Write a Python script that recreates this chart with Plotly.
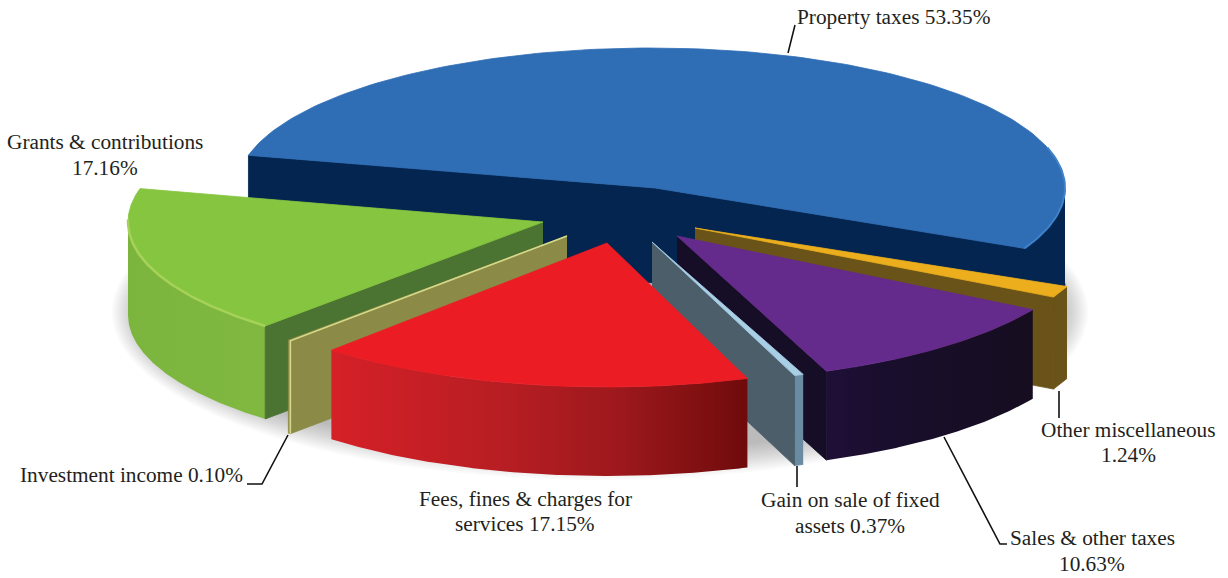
import numpy as np
import plotly.graph_objects as go

categories = ["Property taxes", "Other miscellaneous", "Sales & other taxes",
              "Gain on sale of fixed assets", "Fees, fines & charges for services",
              "Investment income", "Grants & contributions"]
shares = [53.35, 1.24, 10.63, 0.37, 17.15, 0.10, 17.16]

START = 166.5
apex_x = [655, 695, 677, 652, 607, 567, 543]
apex_y = [188, 228, 236, 242, 243, 236, 222]
centre_shift = [-4, 0, 0, 0, 0, 0, 0]
rad_x = [414, 404, 413, 400, 413, 417, 415]
rad_y = [140, 150, 145, 143, 144, 140, 140]
tilt = [0, 2.6, -0.5, 0.5, -0.5, -0.2, -0.3]
depth = [95, 92, 89, 90, 89, 93, 93]
top_col = ["#2f6db5", "#ecae1d", "#652b8c", "#a9cfe6", "#ec1c24", "#8b8b47", "#86c540"]
cut_col = ["#03254f", "#6a5318", "#160d26", "#4b5e69", "#8c1418", "#8b8b47", "#4b7433"]
wall_scale = [
    [[0, "#03254f"], [1, "#03254f"]],
    [[0, "#6a5318"], [1, "#6a5318"]],
    [[0, "#1f0f38"], [0.3, "#190e2c"], [1, "#160d20"]],
    [[0, "#6a8ca3"], [1, "#6a8ca3"]],
    [[0, "#d52027"], [0.4, "#b81e23"], [0.7, "#9c181c"], [1, "#6f0b0b"]],
    [[0, "#8b8b47"], [1, "#8b8b47"]],
    [[0, "#7cb53e"], [1, "#80b840"]],
]
rim_col = ["#3f82cc", "#f2b824", "#7a3aa3", "#bfe0f2", "#ec1c24", "#d8d88a", "#a6d25a"]
draw_order = [0, 1, 2, 3, 6, 5, 4]

spans = [s / sum(shares) * 360 for s in shares]
ends = START - np.cumsum(spans)
starts = ends + np.array(spans)

fig = go.Figure()

def poly(xs, ys, color=None, scale=None, line=None):
    kw = dict(x=list(xs), y=list(ys), mode="lines", fill="toself", hoverinfo="skip",
              showlegend=False, line=dict(width=0, color="rgba(0,0,0,0)"))
    if line:
        kw["line"] = dict(width=0.8, color=line)
    if scale:
        kw["fillgradient"] = dict(type="horizontal", colorscale=scale)
    else:
        kw["fillcolor"] = color
    fig.add_trace(go.Scatter(**kw))

# soft shadow under the pie
for grow in range(0, 30, 2):
    t = np.linspace(0, 2 * np.pi, 240)
    poly(600 + (460 + grow) * np.cos(t), 312 + (140 + grow) * np.sin(t), color="rgba(60,60,60,0.028)")

for i in draw_order:
    t1, t2 = np.radians(starts[i] + tilt[i]), np.radians(ends[i] + tilt[i])
    ax, ay, rx, ry, d = apex_x[i], apex_y[i], rad_x[i], rad_y[i], depth[i]
    cx = ax + centre_shift[i]
    t = np.linspace(t1, t2, 160)
    X = cx + rx * np.cos(t)
    Y = ay - ry * np.sin(t)
    front = np.sin(t) <= 0.001
    # outer wall
    if front.any():
        Xf, Yf = X[front], Y[front]
        solid = wall_scale[i][0][1] == wall_scale[i][-1][1]
        poly(np.r_[Xf, Xf[::-1]], np.r_[Yf, Yf[::-1] + d], scale=wall_scale[i],
             line=wall_scale[i][0][1] if solid else None)
    if i == 0:
        # both cut faces of the large slice
        poly([X[0], X[0], ax, X[-1], X[-1], ax, X[0]],
             [Y[0], Y[0] + d, ay + d, Y[-1] + d, Y[-1], ay, Y[0]], color=cut_col[i], line=cut_col[i])
    elif i in (1, 2, 3):
        # clockwise cut face faces the viewer on the right-hand side
        poly([ax, X[-1], X[-1], ax], [ay, Y[-1], Y[-1] + d, ay + d], color=cut_col[i], line=cut_col[i])
    elif i in (5, 6):
        poly([ax, X[0], X[0], ax], [ay, Y[0], Y[0] + d, ay + d], color=cut_col[i], line=cut_col[i])
    # top face
    poly(np.r_[ax, X, ax], np.r_[ay, Y, ay], color=top_col[i], line=top_col[i])
    # lit rim
    if i == 6:
        m = np.sin(t) <= 0.02
        fig.add_trace(go.Scatter(x=X[m], y=Y[m], mode="lines", hoverinfo="skip", showlegend=False,
                                 line=dict(color=rim_col[i], width=2.5)))
    elif i == 0:
        m = (np.sin(t) <= 0.3) & (np.cos(t) > 0)
        fig.add_trace(go.Scatter(x=X[m], y=Y[m], mode="lines", hoverinfo="skip", showlegend=False,
                                 line=dict(color=rim_col[i], width=2)))
    elif i == 5:
        fig.add_trace(go.Scatter(x=[ax, X[0], X[0]], y=[ay, Y[0], Y[0] + d], mode="lines", hoverinfo="skip",
                                 showlegend=False, line=dict(color=rim_col[i], width=1.6)))

# leader lines
leader_x = [[795, 788], [1059, 1059], [944, 1000, 1007], [797, 797], [247, 262, 288]]
leader_y = [[25, 53], [391, 418], [437, 544, 544], [466, 487], [484, 484, 435]]
for lx, ly in zip(leader_x, leader_y):
    fig.add_trace(go.Scatter(x=lx, y=ly, mode="lines", hoverinfo="skip", showlegend=False,
                             line=dict(color="#111111", width=1.6)))

pct = [f"{s:.2f}%" for s in shares]
labels = [
    (f"{categories[0]} {pct[0]}", 795, 17, "left"),
    (categories[1], 1128, 430, "center"), (pct[1], 1128, 455, "center"),
    (categories[2], 1092, 538, "center"), (pct[2], 1092, 564, "center"),
    ("Gain on sale of fixed", 850, 500, "center"), (f"assets {pct[3]}", 850, 526, "center"),
    ("Fees, fines & charges for", 525, 499, "center"), (f"services {pct[4]}", 525, 524, "center"),
    (f"{categories[5]} {pct[5]}", 18, 475, "left"),
    (categories[6], 105, 142, "center"), (pct[6], 105, 168, "center"),
]
for txt, x, y, anchor in labels:
    fig.add_annotation(x=x, y=y, text=txt, showarrow=False, xanchor=anchor, yanchor="middle",
                       align="center", font=dict(family="Liberation Serif", size=21.3, color="#231f20"))

fig.update_layout(width=1228, height=578, margin=dict(l=0, r=0, t=0, b=0),
                  paper_bgcolor="white", plot_bgcolor="white", showlegend=False,
                  xaxis=dict(range=[0, 1228], visible=False, fixedrange=True),
                  yaxis=dict(range=[578, 0], visible=False, fixedrange=True))
fig.write_html("out.html", config={"displayModeBar": False},
               post_script="document.body.style.margin='0';document.body.style.overflow='hidden';")
